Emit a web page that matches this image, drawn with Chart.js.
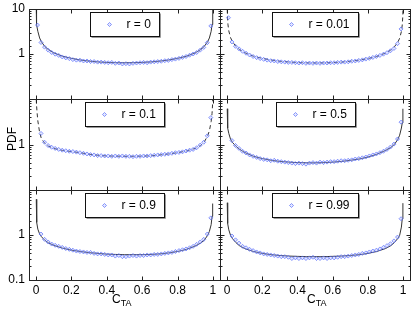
<!DOCTYPE html>
<html>
<head>
<meta charset="utf-8">
<script src="https://cdn.jsdelivr.net/npm/chart.js@4.4.0/dist/chart.umd.min.js"></script>
<style>
  html, body { margin: 0; padding: 0; background: #fff; }
  #wrap { position: relative; width: 415px; height: 312px; overflow: hidden; font-family: "Liberation Sans", Arial, Helvetica, sans-serif; }
  #wrap canvas { position: absolute; left: 0; top: 0; }
  .lbl { position: absolute; font-size: 12px; line-height: 12px; color: #000; white-space: nowrap; }
  .lbl span { font-size: 9px; position: relative; top: 3px; }
  #ylab { left: 11.5px; top: 139px; transform: translate(-50%, -50%) rotate(-90deg); }
</style>
</head>
<body>
<div id="wrap">
  <canvas id="p0" width="415" height="312"></canvas>
  <canvas id="p1" width="415" height="312"></canvas>
  <canvas id="p2" width="415" height="312"></canvas>
  <canvas id="p3" width="415" height="312"></canvas>
  <canvas id="p4" width="415" height="312"></canvas>
  <canvas id="p5" width="415" height="312"></canvas>
  <div class="lbl" id="ylab">PDF</div>
  <div class="lbl" style="left:112px; top:293px;">C<span>TA</span></div>
  <div class="lbl" style="left:307px; top:293px;">C<span>TA</span></div>
</div>
<script>
// x positions of the simulated points (C_TA)
const cta = [0.008, 0.028, 0.048, 0.068, 0.088, 0.108, 0.128, 0.148, 0.168, 0.188,
             0.208, 0.228, 0.248, 0.268, 0.288, 0.308, 0.328, 0.348, 0.368, 0.388,
             0.408, 0.428, 0.448, 0.468, 0.488, 0.508, 0.528, 0.548, 0.568, 0.588,
             0.608, 0.628, 0.648, 0.668, 0.688, 0.708, 0.728, 0.748, 0.768, 0.788,
             0.808, 0.828, 0.848, 0.868, 0.888, 0.908, 0.928, 0.948, 0.968, 0.988];

// simulated PDF values, one list per r
const marksR0 = [4.4, 1.8, 1.42, 1.22, 1.08, 0.99, 0.93, 0.86, 0.82, 0.79,
                 0.75, 0.73, 0.73, 0.70, 0.70, 0.68, 0.68, 0.66, 0.66, 0.65,
                 0.64, 0.65, 0.62, 0.63, 0.60, 0.61, 0.60, 0.62, 0.63, 0.64,
                 0.65, 0.64, 0.66, 0.67, 0.68, 0.69, 0.71, 0.72, 0.75, 0.77,
                 0.80, 0.84, 0.88, 0.94, 1.00, 1.08, 1.22, 1.40, 1.78, 4.2];
const marksR001 = [6.4, 1.85, 1.48, 1.30, 1.15, 1.04, 0.95, 0.88, 0.83, 0.79,
                   0.76, 0.73, 0.71, 0.70, 0.68, 0.67, 0.66, 0.65, 0.65, 0.64,
                   0.63, 0.64, 0.62, 0.63, 0.62, 0.63, 0.62, 0.63, 0.63, 0.64,
                   0.64, 0.65, 0.66, 0.66, 0.67, 0.69, 0.70, 0.72, 0.74, 0.77,
                   0.80, 0.84, 0.88, 0.93, 0.99, 1.07, 1.18, 1.33, 1.70, 3.6];
const marksR01 = [null, 1.75, 1.12, 0.95, 0.87, 0.82, 0.78, 0.75, 0.73, 0.71,
                  0.70, 0.68, 0.66, 0.64, 0.62, 0.60, 0.59, 0.57, 0.57, 0.56,
                  0.56, 0.55, 0.56, 0.55, 0.56, 0.55, 0.55, 0.54, 0.55, 0.55,
                  0.56, 0.56, 0.57, 0.58, 0.59, 0.60, 0.61, 0.62, 0.64, 0.66,
                  0.67, 0.69, 0.72, 0.75, 0.78, 0.85, 0.97, 1.12, 1.55, 3.9];
const marksR05 = [null, 1.22, 0.95, 0.82, 0.71, 0.65, 0.59, 0.55, 0.52, 0.49,
                  0.47, 0.46, 0.44, 0.45, 0.43, 0.42, 0.41, 0.40, 0.39, 0.38,
                  0.39, 0.38, 0.37, 0.39, 0.40, 0.39, 0.41, 0.40, 0.41, 0.42,
                  0.42, 0.43, 0.44, 0.44, 0.45, 0.46, 0.48, 0.49, 0.51, 0.53,
                  0.56, 0.59, 0.62, 0.66, 0.71, 0.78, 0.88, 1.02, 1.32, 3.1];
const marksR09 = [null, 1.05, 0.80, 0.70, 0.63, 0.59, 0.56, 0.53, 0.50, 0.48,
                  0.46, 0.44, 0.43, 0.42, 0.41, 0.41, 0.39, 0.38, 0.38, 0.37,
                  0.36, 0.36, 0.34, 0.35, 0.33, 0.33, 0.34, 0.35, 0.34, 0.35,
                  0.35, 0.36, 0.36, 0.37, 0.37, 0.38, 0.39, 0.40, 0.41, 0.43,
                  0.45, 0.47, 0.49, 0.52, 0.56, 0.62, 0.70, 0.80, 1.05, 2.4];
const marksR099 = [null, 0.95, 0.78, 0.66, 0.56, 0.52, 0.48, 0.45, 0.42, 0.40,
                   0.38, 0.37, 0.36, 0.35, 0.34, 0.33, 0.33, 0.32, 0.30, 0.31,
                   0.30, 0.31, 0.30, 0.31, 0.32, 0.30, 0.30, 0.31, 0.30, 0.31,
                   0.31, 0.32, 0.33, 0.33, 0.34, 0.35, 0.36, 0.37, 0.39, 0.40,
                   0.42, 0.44, 0.46, 0.49, 0.53, 0.58, 0.64, 0.74, 0.90, 2.3];

// x positions of the analytical curves
const curveX = [0.0005, 0.001, 0.002, 0.005, 0.01, 0.02, 0.03, 0.05, 0.07, 0.1,
                0.15, 0.2, 0.25, 0.3, 0.35, 0.4, 0.45, 0.5, 0.55, 0.6,
                0.65, 0.7, 0.75, 0.8, 0.85, 0.9, 0.93, 0.95, 0.97, 0.98,
                0.99, 0.995, 0.998, 0.999, 0.9995];

const curveR0 = [14, 10.1, 7.1, 4.5, 3.2, 2.27, 1.87, 1.46, 1.25, 1.06,
                 0.89, 0.80, 0.735, 0.695, 0.667, 0.65, 0.64, 0.637, 0.64, 0.65,
                 0.667, 0.695, 0.735, 0.80, 0.89, 1.06, 1.25, 1.46, 1.87, 2.27,
                 3.2, 4.5, 7.1, 10.1, 14];
const curveR001 = [14, 10.2, 7.2, 4.6, 3.25, 2.3, 1.9, 1.48, 1.26, 1.07,
                   0.89, 0.80, 0.735, 0.69, 0.665, 0.645, 0.635, 0.632, 0.635, 0.645,
                   0.66, 0.69, 0.73, 0.79, 0.88, 1.05, 1.23, 1.44, 1.84, 2.24,
                   3.15, 4.45, 7.0, 9.9, 14];
const curveR01 = [14, 10.5, 8, 5.4, 3.3, 1.85, 1.35, 1.05, 0.92, 0.82,
                  0.74, 0.70, 0.66, 0.61, 0.58, 0.56, 0.555, 0.55, 0.55, 0.555,
                  0.565, 0.59, 0.62, 0.66, 0.72, 0.82, 0.95, 1.12, 1.55, 2.0,
                  3.2, 4.8, 7.5, 10.2, 14];
const curveR05 = [null, 6.1, 3.8, 2.3, 1.75, 1.3, 1.12, 0.92, 0.79, 0.67,
                  0.55, 0.49, 0.45, 0.425, 0.41, 0.40, 0.395, 0.395, 0.40, 0.41,
                  0.425, 0.45, 0.48, 0.53, 0.61, 0.74, 0.86, 1.0, 1.3, 1.6,
                  2.3, 3.0, 4.2, 6.1, null];
const curveR09 = [null, 6.2, 3.6, 1.9, 1.35, 1.05, 0.92, 0.76, 0.67, 0.59,
                  0.51, 0.46, 0.43, 0.405, 0.39, 0.375, 0.37, 0.365, 0.365, 0.365,
                  0.37, 0.38, 0.40, 0.43, 0.48, 0.57, 0.66, 0.76, 0.98, 1.2,
                  1.7, 2.6, 4.0, 5.0, null];
const curveR099 = [null, 5.2, 3.2, 1.8, 1.3, 0.98, 0.84, 0.68, 0.58, 0.50,
                   0.43, 0.39, 0.365, 0.35, 0.34, 0.335, 0.33, 0.33, 0.33, 0.335,
                   0.34, 0.35, 0.365, 0.39, 0.43, 0.50, 0.58, 0.68, 0.84, 0.98,
                   1.5, 2.3, 3.4, 5.1, null];

const rLabels = ['r = 0', 'r = 0.01', 'r = 0.1', 'r = 0.5', 'r = 0.9', 'r = 0.99'];
const xTickStep = 0.2;
const yRowLabels = [['10', '1'], ['1'], ['1', '0.1']];

// page layout
const W = 415, H = 312;
const ROW_TOP = [9, 99, 190];
const ROW_BOTTOM = [99, 190, 280];
const COL_LEFT = [29, 220];
const COL_RIGHT = [220, 411];
const FONT = '"Liberation Sans", Arial, Helvetica, sans-serif';
const MARK_EDGE = 'rgba(85, 105, 250, 0.85)';
const MARK_FILL = 'rgba(170, 180, 255, 0.35)';

Chart.defaults.font.family = FONT;
Chart.defaults.font.size = 12;
Chart.defaults.color = '#000';

const panels = [
    { canvas: 'p0', label: rLabels[0], marks: marksR0,   curve: curveR0,   dashed: false, row: 0, col: 0 },
    { canvas: 'p1', label: rLabels[1], marks: marksR001, curve: curveR001, dashed: true,  row: 0, col: 1 },
    { canvas: 'p2', label: rLabels[2], marks: marksR01,  curve: curveR01,  dashed: true,  row: 1, col: 0 },
    { canvas: 'p3', label: rLabels[3], marks: marksR05,  curve: curveR05,  dashed: false, row: 1, col: 1 },
    { canvas: 'p4', label: rLabels[4], marks: marksR09,  curve: curveR09,  dashed: false, row: 2, col: 0 },
    { canvas: 'p5', label: rLabels[5], marks: marksR099, curve: curveR099, dashed: false, row: 2, col: 1 }
];

function isDecade(v) {
    const lg = Math.log10(v);
    return Math.abs(lg - Math.round(lg)) < 1e-6;
}

// axes box, inward tick marks and a boxed legend, MATLAB style
const framePlugin = {
    id: 'frame',
    afterDraw(chart, args, opts) {
        const { ctx, chartArea: a, scales } = chart;
        const L = Math.round(a.left) + 0.5;
        const R = Math.round(a.right) + 0.5;
        const T = Math.round(a.top) + 0.5;
        const B = Math.round(a.bottom) + 0.5;
        ctx.save();
        ctx.strokeStyle = '#222';
        ctx.lineWidth = 1;
        ctx.strokeRect(L, T, R - L, B - T);

        ctx.beginPath();
        scales.x.ticks.forEach(t => {
            const px = Math.round(scales.x.getPixelForValue(t.value)) + 0.5;
            ctx.moveTo(px, B); ctx.lineTo(px, B - 4);
            ctx.moveTo(px, T); ctx.lineTo(px, T + 4);
        });
        scales.y.ticks.forEach(t => {
            const py = Math.round(scales.y.getPixelForValue(t.value)) + 0.5;
            const len = isDecade(t.value) ? 4 : 2;
            ctx.moveTo(L, py); ctx.lineTo(L + len, py);
            ctx.moveTo(R, py); ctx.lineTo(R - len, py);
        });
        ctx.stroke();

        // legend box at the top centre of the axes
        ctx.font = '12px ' + FONT;
        const tw = ctx.measureText(opts.label).width;
        const bw = Math.round(tw + 45);
        const bl = Math.round((a.left + a.right) / 2 - bw / 2) + 0.5;
        const bt = Math.round(a.top + 2.5) + 0.5;
        const bh = 24;
        ctx.fillStyle = '#fff';
        ctx.fillRect(bl, bt, bw, bh);
        ctx.strokeStyle = '#111';
        ctx.strokeRect(bl, bt, bw, bh);
        ctx.strokeStyle = '#999';
        ctx.beginPath();
        ctx.moveTo(bl + 1, bt + bh + 1); ctx.lineTo(bl + bw + 1, bt + bh + 1); ctx.lineTo(bl + bw + 1, bt + 1);
        ctx.stroke();

        const mx = bl + 19, my = bt + 12;
        ctx.beginPath();
        ctx.moveTo(mx, my - 2); ctx.lineTo(mx + 2, my); ctx.lineTo(mx, my + 2); ctx.lineTo(mx - 2, my);
        ctx.closePath();
        ctx.fillStyle = MARK_FILL;
        ctx.fill();
        ctx.strokeStyle = MARK_EDGE;
        ctx.lineWidth = 0.8;
        ctx.stroke();

        ctx.fillStyle = '#000';
        ctx.textBaseline = 'middle';
        ctx.textAlign = 'left';
        ctx.fillText(opts.label, bl + 36, my + 0.5);
        ctx.restore();
    }
};

function buildPanel(p) {
    const bottomRow = p.row === 2;
    const leftCol = p.col === 0;
    const shownY = yRowLabels[p.row];

    return new Chart(document.getElementById(p.canvas), {
        type: 'scatter',
        data: {
            datasets: [
                {
                    label: 'theory',
                    data: curveX.map((x, i) => ({ x, y: p.curve[i] })),
                    showLine: true,
                    pointRadius: 0,
                    borderColor: '#333',
                    borderWidth: 1,
                    borderDash: p.dashed ? [4, 3] : [],
                    tension: 0,
                    order: 2
                },
                {
                    label: p.label,
                    data: cta.map((x, i) => ({ x, y: p.marks[i] })),
                    showLine: false,
                    pointStyle: 'rectRot',
                    pointRadius: 2,
                    borderWidth: 0.8,
                    borderColor: MARK_EDGE,
                    backgroundColor: MARK_FILL,
                    order: 1
                }
            ]
        },
        options: {
            responsive: false,
            animation: false,
            devicePixelRatio: 1,
            events: [],
            layout: {
                padding: {
                    left: leftCol ? 0 : COL_LEFT[1],
                    right: W - COL_RIGHT[p.col],
                    top: ROW_TOP[p.row],
                    bottom: bottomRow ? 0 : H - ROW_BOTTOM[p.row]
                }
            },
            scales: {
                x: {
                    type: 'linear',
                    min: -0.04,
                    max: 1.04,
                    grid: { display: false, drawTicks: false },
                    border: { display: false },
                    ticks: {
                        display: bottomRow,
                        stepSize: xTickStep,
                        includeBounds: false,
                        autoSkip: false,
                        maxRotation: 0,
                        padding: 3,
                        callback: v => String(Math.round(v * 10) / 10)
                    },
                    afterFit(s) {
                        s.height = bottomRow ? H - ROW_BOTTOM[p.row] : 0;
                        s.paddingLeft = 0; s.paddingRight = 0;
                    }
                },
                y: {
                    type: 'logarithmic',
                    min: 0.1,
                    max: 10,
                    grid: { display: false, drawTicks: false },
                    border: { display: false },
                    ticks: {
                        display: leftCol,
                        autoSkip: false,
                        padding: 4,
                        callback: v => {
                            if (!isDecade(v)) return '';
                            const s = v >= 1 ? String(Math.round(v)) : '0.1';
                            return shownY.includes(s) ? s : '';
                        }
                    },
                    afterFit(s) {
                        s.width = leftCol ? COL_LEFT[0] : 0;
                        s.paddingTop = 0; s.paddingBottom = 0;
                    }
                }
            },
            plugins: {
                tooltip: { enabled: false },
                legend: { display: false },
                frame: { label: p.label }
            }
        },
        plugins: [framePlugin]
    });
}

panels.forEach(buildPanel);
</script>
</body>
</html>
